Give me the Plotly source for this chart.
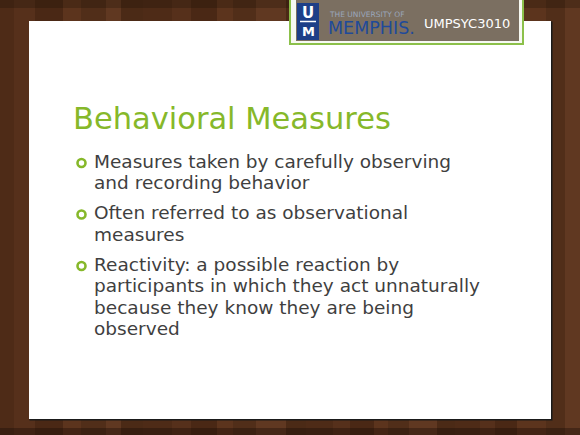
import plotly.graph_objects as go

# slide text
title = "Behavioral Measures"
bullets = [
    ["Measures taken by carefully observing", "and recording behavior"],
    ["Often referred to as observational", "measures"],
    ["Reactivity: a possible reaction by",
     "participants in which they act unnaturally",
     "because they know they are being",
     "observed"],
]
course = "UMPSYC3010"

W, H = 580, 435
GREEN = "#86b82a"
TEXT = "#3f3f3f"

fig = go.Figure()
shapes = []
ann = []

# wood background, vertical planks
wood = ["#4e2b17", "#56301b", "#4a2815", "#5c341d", "#512e19", "#603821", "#4b2a16"]
x = 0
i = 0
while x < W:
    w = 14 + (i * 7) % 17
    shapes.append(dict(type="rect", x0=x, x1=x + w, y0=0, y1=H,
                       fillcolor=wood[i % len(wood)], line_width=0, layer="below"))
    x += w
    i += 1
# darker edges top and bottom
shapes.append(dict(type="rect", x0=0, x1=W, y0=428, y1=H,
                   fillcolor="rgba(20,10,5,0.35)", line_width=0))
shapes.append(dict(type="rect", x0=0, x1=W, y0=0, y1=8,
                   fillcolor="rgba(20,10,5,0.25)", line_width=0))

# white slide panel with thin shadow
shapes.append(dict(type="rect", x0=29.5, x1=552.5, y0=21.5, y1=420.5,
                   fillcolor="#1a1a1a", line_width=0))
shapes.append(dict(type="rect", x0=29, x1=551, y0=21, y1=419,
                   fillcolor="white", line_width=0))

# logo box
shapes.append(dict(type="rect", x0=290, x1=523, y0=-5, y1=44,
                   fillcolor="#f7f9f2", line=dict(color="#8cc04a", width=2)))
shapes.append(dict(type="rect", x0=296, x1=519, y0=-5, y1=41,
                   fillcolor="#7b6f61", line_width=0))
shapes.append(dict(type="rect", x0=297, x1=319, y0=3, y1=40,
                   fillcolor="#1d3f88", line_width=0))
shapes.append(dict(type="line", x0=300, x1=316, y0=21.5, y1=21.5,
                   line=dict(color="white", width=1.5)))
ann.append(dict(x=308, y=13, text="<b>U</b>", font=dict(family="DejaVu Sans", size=15, color="white")))
ann.append(dict(x=308, y=31, text="<b>M</b>", font=dict(family="DejaVu Sans", size=13, color="white")))
ann.append(dict(x=327, y=14, text="THE UNIVERSITY OF", xanchor="left",
                font=dict(family="DejaVu Sans", size=7.5, color="#9aa6bb")))
ann.append(dict(x=326, y=28, text="MEMPHIS.", xanchor="left",
                font=dict(family="DejaVu Sans", size=17.5, color="#1f4a9a")))
ann.append(dict(x=422, y=23, text=course, xanchor="left",
                font=dict(family="DejaVu Sans", size=13, color="white")))

# title
ann.append(dict(x=71, y=118, text=title, xanchor="left",
                font=dict(family="DejaVu Sans", size=30.5, color=GREEN)))

# bullets
y = 161
for lines in bullets:
    shapes.append(dict(type="circle", x0=77.5, x1=85.5, y0=y - 2, y1=y + 6,
                       line=dict(color=GREEN, width=2.6)))
    for line in lines:
        ann.append(dict(x=92, y=y, text=line, xanchor="left",
                        font=dict(family="DejaVu Sans", size=18.5, color=TEXT)))
        y += 21.5
    y += 8.5

for a in ann:
    a.setdefault("xanchor", "center")
    a.update(xref="x", yref="y", showarrow=False, yanchor="middle")

fig.update_layout(
    width=W, height=H,
    margin=dict(l=0, r=0, t=0, b=0),
    paper_bgcolor="#4e2b17",
    plot_bgcolor="#4e2b17",
    xaxis=dict(range=[0, W], visible=False, fixedrange=True),
    yaxis=dict(range=[H, 0], visible=False, fixedrange=True),
    shapes=shapes,
    annotations=ann,
    showlegend=False,
)

fig.write_html("out.html", config={"displayModeBar": False},
               post_script="document.body.style.margin='0';")
